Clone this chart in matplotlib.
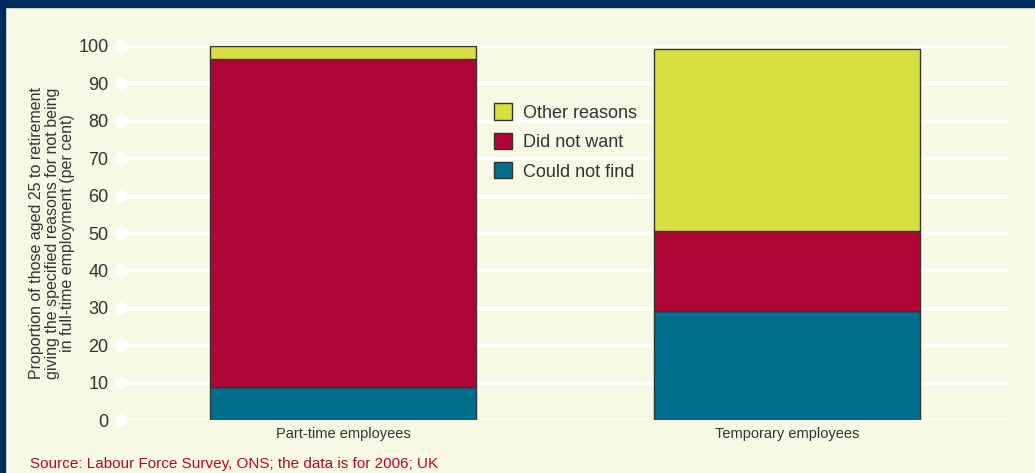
import matplotlib
matplotlib.use("Agg")
import matplotlib.pyplot as plt
from matplotlib.patches import Rectangle
import numpy as np

plt.rcParams["font.family"] = ["Liberation Sans", "DejaVu Sans"]

categories = ["Part-time employees", "Temporary employees"]
could_not_find = [8.8, 29.1]
did_not_want = [87.7, 21.4]
other_reasons = [3.5, 48.7]
yticks = list(range(0, 101, 10))

BG = "#f7f9e5"
NAVY = "#002a5c"
C_FIND = "#006e8c"
C_WANT = "#b10535"
C_OTHER = "#d6df3f"
TXT = "#333333"

W, H = 1035, 473
fig = plt.figure(figsize=(W / 100, H / 100), dpi=100, facecolor=BG)

# navy frame (top band + left edge)
fig.patches.append(Rectangle((0, 1 - 7 / H), 1, 7 / H, transform=fig.transFigure,
                             color=NAVY, zorder=0))
fig.patches.append(Rectangle((0, 0), 5 / W, 1, transform=fig.transFigure,
                             color=NAVY, zorder=0))

ax = fig.add_axes([121 / W, (H - 420) / H, (1009 - 121) / W, (420 - 46) / H])
ax.set_facecolor(BG)
for s in ax.spines.values():
    s.set_visible(False)

x = np.arange(len(categories))
width = 0.6
ec = dict(edgecolor="#333333", linewidth=1.0)
b1 = ax.bar(x, could_not_find, width, color=C_FIND, zorder=3, **ec)
b2 = ax.bar(x, did_not_want, width, bottom=could_not_find, color=C_WANT, zorder=3, **ec)
bottom2 = np.add(could_not_find, did_not_want)
b3 = ax.bar(x, other_reasons, width, bottom=bottom2, color=C_OTHER, zorder=3, **ec)

ax.set_xlim(-0.5, 1.5)
ax.set_ylim(0, 100)

for yv in yticks:
    ax.axhline(yv, color="white", linewidth=2.5, zorder=1)
ax.plot([-0.5] * len(yticks), yticks, "o", color="white", ms=8,
        clip_on=False, zorder=2)

ax.set_yticks(yticks)
ax.set_yticklabels([str(v) for v in yticks], fontsize=13, color=TXT)
ax.tick_params(axis="y", length=0, pad=9)
ax.set_xticks(x)
ax.set_xticklabels(categories, fontsize=10.5, color=TXT)
ax.tick_params(axis="x", length=0, pad=5)

ax.set_ylabel("Proportion of those aged 25 to retirement\n"
              "giving the specified reasons for not being\n"
              "in full-time employment (per cent)",
              fontsize=11.5, color=TXT, linespacing=1.05, labelpad=2)

leg = ax.legend([b3, b2, b1], ["Other reasons", "Did not want", "Could not find"],
                loc="upper left", bbox_to_anchor=(0.402, 0.89), frameon=False,
                fontsize=13, handlelength=1.0, handleheight=1.0,
                handletextpad=0.6, labelspacing=0.62, labelcolor=TXT)

fig.text(30 / W, 1 - 464 / H, "Source: Labour Force Survey, ONS; the data is for 2006; UK",
         fontsize=11, color=C_WANT, va="center", ha="left")

fig.savefig("out.png", dpi=100, facecolor=BG)
